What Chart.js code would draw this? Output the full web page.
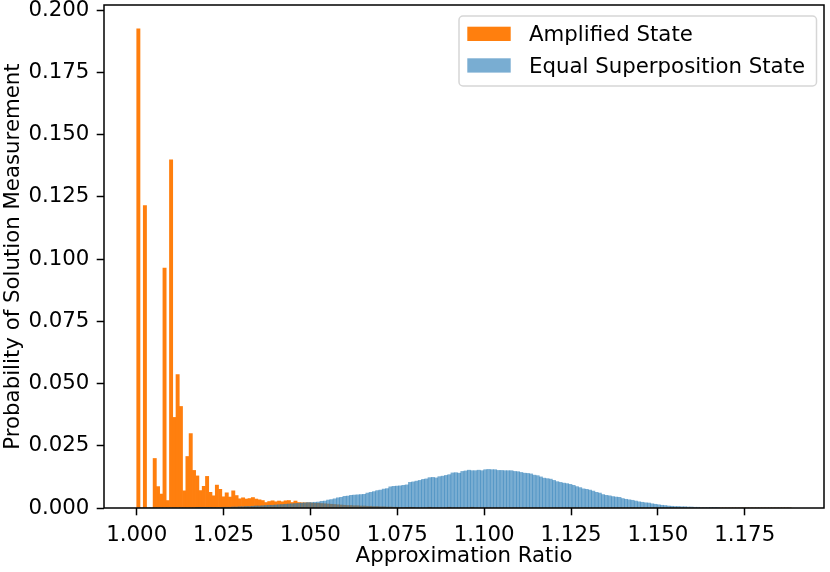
<!DOCTYPE html>
<html>
<head>
<meta charset="utf-8">
<title>Approximation Ratio Histogram</title>
<script src="https://cdn.jsdelivr.net/npm/chart.js@4.4.1/dist/chart.umd.min.js"></script>
<style>
  html, body { margin: 0; padding: 0; background: #fff; }
  #wrap { width: 830px; height: 572px; }
</style>
</head>
<body>
<div id="wrap"><canvas id="histChart" width="830" height="572"></canvas></div>
<script>
// 200 equal-width bins between the smallest and largest approximation ratio
const binStart = 1.0;
const binEnd = 1.1884;
const binCount = 200;

// Probability per bin
const amplified = [
  0.1925, 0, 0.1215, 0, 0, 0.0199, 0.0086, 0.0056, 0.0964, 0.0030,
  0.1399, 0.0364, 0.0536, 0.0408, 0.0069, 0.0207, 0.0299, 0.0151, 0.0129, 0.0070,
  0.0087, 0.0127, 0.0063, 0.0049, 0.0092, 0.0075, 0.0045, 0.0061, 0.0044, 0.0069,
  0.0050, 0.0037, 0.0041, 0.0036, 0.0038, 0.0042, 0.0036, 0.0033, 0.0030, 0.0022,
  0.0026, 0.0029, 0.0025, 0.0028, 0.0025, 0.0029, 0.0030, 0.0022, 0.0028, 0.0022,
  0.0021, 0.0021, 0.0021, 0.0020, 0.0019, 0.0019, 0.0018, 0.0017, 0.0016, 0.0015,
  0.0014, 0.0013, 0.0012, 0.0011, 0.0010, 0.0010, 0.0009, 0.0009, 0.0008, 0.0008,
  0.0007, 0.0007, 0.0006, 0.0006, 0.0005, 0.0005, 0.0004, 0.0004, 0.0003, 0.0003,
  0.0002, 0.0002, 0.0001, 0.0003, 0.0001, 0, 0, 0, 0, 0.0003,
  0, 0, 0, 0, 0, 0.0003, 0, 0, 0, 0,
  0, 0, 0.0003, 0, 0, 0, 0, 0, 0, 0,
  0, 0, 0, 0, 0, 0, 0, 0, 0, 0,
  0, 0, 0, 0, 0, 0, 0, 0, 0, 0,
  0, 0, 0, 0, 0, 0, 0, 0, 0, 0,
  0, 0, 0, 0, 0, 0, 0, 0, 0, 0,
  0, 0, 0, 0, 0, 0, 0, 0, 0, 0,
  0, 0, 0, 0, 0, 0, 0, 0, 0, 0,
  0, 0, 0, 0, 0, 0, 0, 0, 0, 0,
  0, 0, 0, 0, 0, 0, 0, 0, 0, 0,
  0, 0, 0, 0, 0, 0, 0, 0, 0, 0
];

const equalSuperposition = [
  0, 0, 0, 0, 0, 0, 0, 0, 0, 0,
  0, 0, 0, 0, 0, 0, 0, 0, 0.0001, 0.0001,
  0.0001, 0.0001, 0.0001, 0.0002, 0.0002, 0.0002, 0.0003, 0.0003, 0.0003, 0.0004,
  0.0004, 0.0005, 0.0005, 0.0006, 0.0006, 0.0007, 0.0008, 0.0008, 0.0009, 0.0010,
  0.0011, 0.0011, 0.0012, 0.0013, 0.0014, 0.0015, 0.0016, 0.0017, 0.0018, 0.0019,
  0.0020, 0.0021, 0.0022, 0.0022, 0.0023, 0.0024, 0.0027, 0.0028, 0.0032, 0.0034,
  0.0037, 0.0041, 0.0043, 0.0047, 0.0048, 0.0051, 0.0052, 0.0053, 0.0054, 0.0055,
  0.0060, 0.0063, 0.0066, 0.0070, 0.0072, 0.0076, 0.0078, 0.0085, 0.0087, 0.0088,
  0.0089, 0.0091, 0.0093, 0.0103, 0.0105, 0.0108, 0.0111, 0.0115, 0.0117, 0.0122,
  0.0123, 0.0121, 0.0126, 0.0128, 0.0131, 0.0134, 0.0141, 0.0142, 0.0140, 0.0147,
  0.0149, 0.0152, 0.0150, 0.0150, 0.0152, 0.0150, 0.0154, 0.0155, 0.0154, 0.0154,
  0.0151, 0.0151, 0.0150, 0.0150, 0.0150, 0.0147, 0.0146, 0.0143, 0.0140, 0.0139,
  0.0137, 0.0132, 0.0130, 0.0125, 0.0120, 0.0118, 0.0116, 0.0111, 0.0106, 0.0103,
  0.0100, 0.0098, 0.0095, 0.0091, 0.0086, 0.0082, 0.0077, 0.0075, 0.0072, 0.0068,
  0.0063, 0.0060, 0.0054, 0.0051, 0.0049, 0.0046, 0.0044, 0.0043, 0.0038, 0.0035,
  0.0033, 0.0031, 0.0028, 0.0025, 0.0023, 0.0021, 0.0020, 0.0017, 0.0015, 0.0013,
  0.0011, 0.0010, 0.0008, 0.0007, 0.0006, 0.0006, 0.0005, 0.0005, 0.0004, 0.0004,
  0.0003, 0.0003, 0.0002, 0.0002, 0.0002, 0.0001, 0.0001, 0.0001, 0, 0,
  0, 0, 0, 0, 0, 0, 0, 0, 0, 0,
  0, 0, 0, 0, 0, 0, 0, 0, 0, 0
];

const xTicks = [1.000, 1.025, 1.050, 1.075, 1.100, 1.125, 1.150, 1.175];
const yTicks = [0, 0.025, 0.050, 0.075, 0.100, 0.125, 0.150, 0.175, 0.200];

const seriesLabels = ['Amplified State', 'Equal Superposition State'];
const orange = '#ff7f0e';
const blue = 'rgba(31, 119, 180, 0.6)';

// bar centres and matplotlib-like 5% margins
const binWidth = (binEnd - binStart) / binCount;
const binCenters = amplified.map((_, i) => binStart + (i + 0.5) * binWidth);
const span = binEnd - binStart;
const xMin = binStart - 0.05 * span;
const xMax = binEnd + 0.05 * span;
const yMax = 1.05 * Math.max(...amplified);

const FONT = 21.3;
Chart.defaults.font.family = "'DejaVu Sans', sans-serif";
Chart.defaults.color = '#000';

// frame on all four sides + matplotlib style legend box
const frameAndLegend = {
    id: 'frameAndLegend',
    afterDatasetsDraw(chart) {
        const ctx = chart.ctx;
        const a = chart.chartArea;
        ctx.save();
        ctx.strokeStyle = '#000';
        ctx.lineWidth = 1.5;
        ctx.strokeRect(a.left, a.top, a.right - a.left, a.bottom - a.top);

        const bx = a.right - 365, by = a.top + 11, bw = 357.5, bh = 70, r = 4;
        ctx.beginPath();
        ctx.moveTo(bx + r, by);
        ctx.lineTo(bx + bw - r, by);
        ctx.arcTo(bx + bw, by, bx + bw, by + r, r);
        ctx.lineTo(bx + bw, by + bh - r);
        ctx.arcTo(bx + bw, by + bh, bx + bw - r, by + bh, r);
        ctx.lineTo(bx + r, by + bh);
        ctx.arcTo(bx, by + bh, bx, by + bh - r, r);
        ctx.lineTo(bx, by + r);
        ctx.arcTo(bx, by, bx + r, by, r);
        ctx.closePath();
        ctx.fillStyle = 'rgba(255, 255, 255, 0.8)';
        ctx.fill();
        ctx.strokeStyle = 'rgba(204, 204, 204, 0.8)';
        ctx.lineWidth = 1.5;
        ctx.stroke();

        ctx.font = FONT + "px 'DejaVu Sans'";
        ctx.textBaseline = 'alphabetic';
        ctx.textAlign = 'left';
        chart.data.datasets.forEach((ds, i) => {
            const rowY = by + 10.7 + i * 31.6;
            ctx.fillStyle = '#fff';
            ctx.fillRect(bx + 8.3, rowY, 43.4, 14.3);
            ctx.fillStyle = ds.backgroundColor;
            ctx.fillRect(bx + 8.3, rowY, 43.4, 14.3);
            ctx.fillStyle = '#000';
            ctx.fillText(ds.label, bx + 70, rowY + 14.3);
        });
        ctx.restore();
    }
};

const tickGrid = {
    display: true,
    drawOnChartArea: false,
    drawTicks: true,
    tickLength: 7.3,
    tickWidth: 1.5,
    tickColor: '#000',
    offset: false
};

new Chart(document.getElementById('histChart'), {
    type: 'bar',
    data: {
        datasets: [
            {
                label: seriesLabels[0],
                data: binCenters.map((x, i) => ({ x: x, y: amplified[i] })),
                backgroundColor: orange,
                borderWidth: 0,
                order: 1
            },
            {
                label: seriesLabels[1],
                data: binCenters.map((x, i) => ({ x: x, y: equalSuperposition[i] })),
                backgroundColor: blue,
                borderWidth: 0,
                order: 0
            }
        ]
    },
    options: {
        responsive: false,
        animation: false,
        devicePixelRatio: 1,
        grouped: false,
        barPercentage: 1.0,
        categoryPercentage: 1.0,
        layout: { padding: { top: 5, right: 6, left: 0, bottom: 0 } },
        plugins: {
            legend: { display: false },
            tooltip: { enabled: false }
        },
        scales: {
            x: {
                type: 'linear',
                min: xMin,
                max: xMax,
                offset: false,
                grid: tickGrid,
                border: { display: false },
                ticks: {
                    autoSkip: false,
                    maxRotation: 0,
                    padding: 10,
                    color: '#000',
                    font: { size: FONT, lineHeight: 1 },
                    callback: v => v.toFixed(3)
                },
                afterBuildTicks: s => { s.ticks = xTicks.map(v => ({ value: v })); },
                afterFit: s => { s.height = 64; s.paddingLeft = 0; s.paddingRight = 0; },
                title: {
                    display: true,
                    text: 'Approximation Ratio',
                    color: '#000',
                    font: { size: FONT, lineHeight: 1 },
                    padding: { top: 0, bottom: 5 }
                }
            },
            y: {
                type: 'linear',
                min: 0,
                max: yMax,
                grid: tickGrid,
                border: { display: false },
                ticks: {
                    padding: 7.3,
                    color: '#000',
                    font: { size: FONT, lineHeight: 1 },
                    callback: v => v.toFixed(3)
                },
                afterBuildTicks: s => { s.ticks = yTicks.map(v => ({ value: v })); },
                afterFit: s => { s.width = 104; s.paddingTop = 0; s.paddingBottom = 0; },
                title: {
                    display: true,
                    text: 'Probability of Solution Measurement',
                    color: '#000',
                    font: { size: FONT, lineHeight: 1 },
                    padding: { top: 3, bottom: 0 }
                }
            }
        }
    },
    plugins: [frameAndLegend]
});
</script>
</body>
</html>
